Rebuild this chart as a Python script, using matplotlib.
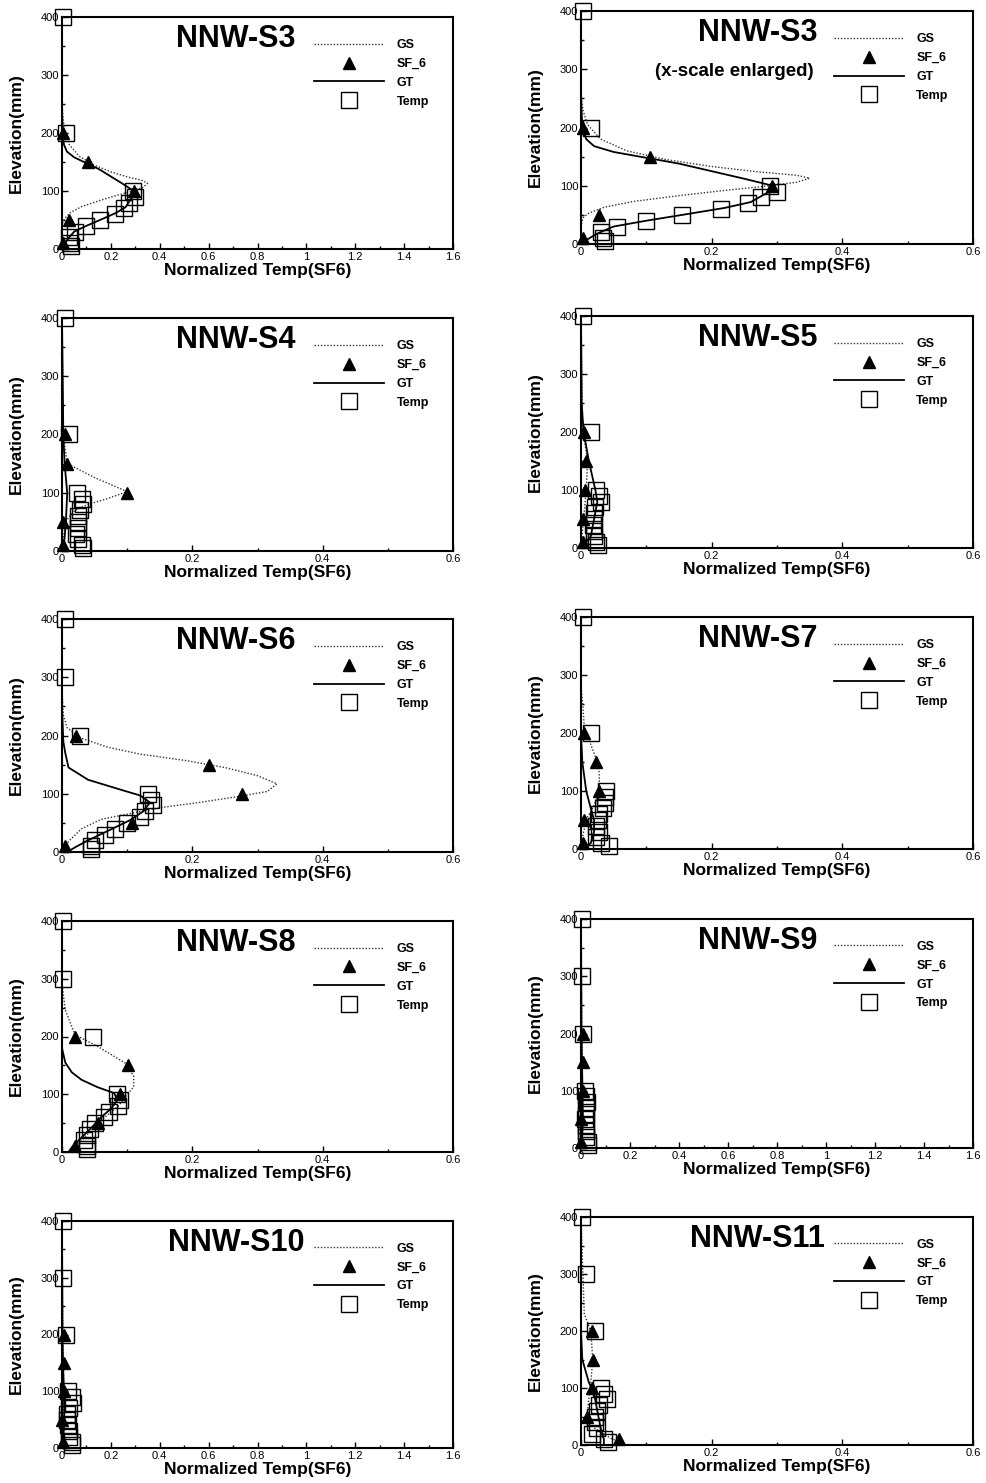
import numpy as np
import matplotlib
matplotlib.use("Agg")
import matplotlib.pyplot as plt
from matplotlib.ticker import MultipleLocator, FormatStrFormatter
from matplotlib.lines import Line2D

plt.rcParams['font.family'] = ['Liberation Sans', 'DejaVu Sans']

nan = np.nan

# ---------------- data ----------------
panel_titles = ['NNW-S3', 'NNW-S3', 'NNW-S4', 'NNW-S5', 'NNW-S6',
                'NNW-S7', 'NNW-S8', 'NNW-S9', 'NNW-S10', 'NNW-S11']
panel_station = ['S3', 'S3', 'S4', 'S5', 'S6', 'S7', 'S8', 'S9', 'S10', 'S11']
panel_xmax = [1.6, 0.6, 0.6, 0.6, 0.6, 0.6, 0.6, 1.6, 1.6, 0.6]
legend_labels = ['GS', 'SF_6', 'GT', 'Temp']

sf6_elev = [10, 50, 100, 150, 200]
temp_elev = [5, 10, 20, 30, 40, 50, 60, 70, 80, 90, 100, 200, 300, 400]

s3_sf6 = [0.003, 0.027, 0.293, 0.105, 0.003]
s3_temp = [0.037, 0.033, 0.030, 0.055, 0.100, 0.155, 0.215, 0.255, 0.275, 0.300, 0.290, 0.015, nan, 0.003]
s3_gs_x = [0, 0, 0.003, 0.010, 0.030, 0.070, 0.130, 0.200, 0.270, 0.330, 0.350, 0.330, 0.280, 0.220, 0.150, 0.080, 0.035, 0.012, 0.003, 0, 0]
s3_gs_y = [400, 260, 230, 205, 180, 160, 145, 133, 124, 118, 113, 106, 99, 92, 83, 73, 63, 53, 45, 30, 0]
s3_gt_x = [0, 0, 0.002, 0.008, 0.020, 0.050, 0.100, 0.150, 0.200, 0.250, 0.290, 0.285, 0.260, 0.220, 0.155, 0.100, 0.050, 0.025, 0.010, 0]
s3_gt_y = [400, 250, 200, 180, 168, 158, 148, 138, 125, 112, 101, 88, 72, 62, 50, 40, 30, 18, 8, 0]

s4_sf6 = [0.002, 0.002, 0.100, 0.008, 0.005]
s4_temp = [0.032, 0.030, 0.024, 0.022, 0.024, 0.025, 0.024, 0.027, 0.032, 0.030, 0.023, 0.010, nan, 0.004]
s4_gs_x = [0, 0.002, 0.008, 0.050, 0.100, 0.070, 0.040, 0.020, 0.005, 0]
s4_gs_y = [400, 200, 150, 126, 102, 90, 80, 70, 50, 0]
s4_gt_x = [0, 0.002, 0.004, 0.008, 0.006, 0.003, 0]
s4_gt_y = [400, 200, 150, 100, 50, 10, 0]

s5_sf6 = [0.003, 0.003, 0.006, 0.008, 0.005]
s5_temp = [0.026, 0.023, 0.020, 0.020, 0.019, 0.020, 0.020, 0.022, 0.030, 0.028, 0.023, 0.016, nan, 0.003]
s5_gs_x = [0, 0.002, 0.006, 0.010, 0.008, 0.004, 0]
s5_gs_y = [400, 220, 180, 150, 100, 50, 0]
s5_gt_x = [0, 0.001, 0.004, 0.012, 0.022, 0.025, 0.020, 0.015, 0]
s5_gt_y = [400, 250, 200, 150, 100, 80, 50, 20, 0]

s6_sf6 = [0.005, 0.108, 0.276, 0.225, 0.022]
s6_temp = [0.045, 0.045, 0.050, 0.066, 0.081, 0.100, 0.119, 0.127, 0.139, 0.137, 0.132, 0.028, 0.005, 0.005]
s6_gs_x = [0, 0, 0.002, 0.008, 0.030, 0.070, 0.120, 0.190, 0.250, 0.300, 0.330, 0.315, 0.275, 0.210, 0.150, 0.100, 0.060, 0.030, 0.010, 0]
s6_gs_y = [400, 280, 235, 213, 195, 180, 168, 157, 145, 131, 117, 104, 96, 85, 76, 65, 56, 40, 18, 0]
s6_gt_x = [0, 0, 0.002, 0.005, 0.010, 0.040, 0.090, 0.120, 0.135, 0.125, 0.105, 0.070, 0.040, 0.020, 0.008]
s6_gt_y = [400, 250, 190, 170, 145, 124, 107, 97, 85, 70, 55, 36, 20, 8, 0]

s7_sf6 = [0.003, 0.005, 0.028, 0.023, 0.005]
s7_temp = [0.043, 0.030, 0.023, 0.028, 0.023, 0.026, 0.028, 0.033, 0.036, 0.037, 0.038, 0.015, nan, 0.003]
s7_gs_x = [0, 0, 0.003, 0.005, 0.015, 0.025, 0.028, 0.028, 0.020, 0.010, 0.004, 0]
s7_gs_y = [400, 280, 245, 210, 180, 150, 130, 100, 75, 55, 30, 0]
s7_gt_x = [0, 0, 0.002, 0.008, 0.015, 0.020, 0.020, 0.015, 0]
s7_gt_y = [400, 200, 150, 100, 70, 50, 30, 10, 0]

s8_sf6 = [0.020, 0.056, 0.089, 0.102, 0.020]
s8_temp = [0.038, 0.038, 0.033, 0.038, 0.043, 0.050, 0.064, 0.072, 0.086, 0.089, 0.084, 0.048, 0.002, 0.002]
s8_gs_x = [0, 0, 0.005, 0.020, 0.056, 0.097, 0.110, 0.110, 0.102, 0.086, 0.061, 0.036, 0.015]
s8_gs_y = [400, 292, 246, 203, 182, 154, 131, 113, 102, 79, 56, 27, 0]
s8_gt_x = [0, 0, 0.005, 0.015, 0.030, 0.055, 0.080, 0.085, 0.075, 0.060, 0.045, 0.030, 0.015, 0.010]
s8_gt_y = [400, 180, 155, 138, 125, 112, 102, 90, 75, 60, 42, 25, 8, 0]

s9_sf6 = [0.0, 0.0, 0.007, 0.007, 0.007]
s9_temp = [0.030, 0.030, 0.020, 0.020, 0.020, 0.015, 0.020, 0.020, 0.025, 0.020, 0.015, 0.010, 0.005, 0.005]
s9_gs_x = [0, 0.003, 0.005, 0.006, 0.004, 0]
s9_gs_y = [400, 200, 150, 100, 50, 0]
s9_gt_x = [0, 0.002, 0.004, 0.006, 0.008, 0.005, 0]
s9_gt_y = [400, 200, 150, 100, 50, 20, 0]

s10_sf6 = [0.005, 0.0, 0.007, 0.007, 0.007]
s10_temp = [0.040, 0.040, 0.030, 0.030, 0.025, 0.020, 0.020, 0.030, 0.045, 0.040, 0.025, 0.015, 0.005, 0.005]
s10_gs_x = [0, 0.003, 0.005, 0.007, 0.004, 0]
s10_gs_y = [400, 200, 150, 100, 50, 0]
s10_gt_x = [0, 0.002, 0.004, 0.008, 0.010, 0.006, 0]
s10_gt_y = [400, 200, 150, 100, 50, 20, 0]

s11_sf6 = [0.058, 0.009, 0.017, 0.019, 0.017]
s11_temp = [0.042, 0.035, 0.017, 0.024, 0.022, 0.022, 0.024, 0.027, 0.040, 0.035, 0.030, 0.022, 0.007, 0.002]
s11_gs_x = [0, 0.005, 0.015, 0.018, 0.015, 0.010, 0.020, 0.045, 0.060]
s11_gs_y = [400, 230, 200, 150, 110, 60, 30, 12, 5]
s11_gt_x = [0, 0, 0.002, 0.012, 0.020, 0.025, 0.030, 0.035, 0.035]
s11_gt_y = [400, 200, 150, 110, 90, 60, 30, 10, 0]

stations = {
    'S3': (s3_sf6, s3_temp, s3_gs_x, s3_gs_y, s3_gt_x, s3_gt_y),
    'S4': (s4_sf6, s4_temp, s4_gs_x, s4_gs_y, s4_gt_x, s4_gt_y),
    'S5': (s5_sf6, s5_temp, s5_gs_x, s5_gs_y, s5_gt_x, s5_gt_y),
    'S6': (s6_sf6, s6_temp, s6_gs_x, s6_gs_y, s6_gt_x, s6_gt_y),
    'S7': (s7_sf6, s7_temp, s7_gs_x, s7_gs_y, s7_gt_x, s7_gt_y),
    'S8': (s8_sf6, s8_temp, s8_gs_x, s8_gs_y, s8_gt_x, s8_gt_y),
    'S9': (s9_sf6, s9_temp, s9_gs_x, s9_gs_y, s9_gt_x, s9_gt_y),
    'S10': (s10_sf6, s10_temp, s10_gs_x, s10_gs_y, s10_gt_x, s10_gt_y),
    'S11': (s11_sf6, s11_temp, s11_gs_x, s11_gs_y, s11_gt_x, s11_gt_y),
}

# ---------------- layout (pixel boxes: left, right, top, bottom) ----------------
W, H = 986, 1483
col_lr = [(62, 453), (581, 973)]
row_tb = [[(17, 249), (11, 244)],
          [(318, 551), (316, 548)],
          [(619, 852), (617, 849)],
          [(921, 1152), (919, 1148)],
          [(1221, 1448), (1217, 1445)]]

GS_STYLE = dict(color='#333333', lw=1.0, ls=(0, (1, 1.3)))
GT_STYLE = dict(color='black', lw=1.3)
TRI_STYLE = dict(ls='none', marker='^', ms=9, color='black')
SQ_STYLE = dict(ls='none', marker='s', ms=11, mfc='none', mec='black', mew=1.0)

fig = plt.figure(figsize=(W / 100, H / 100), dpi=100)

for i, title in enumerate(panel_titles):
    r, c = divmod(i, 2)
    l, rr = col_lr[c]
    t, b = row_tb[r][c]
    ax = fig.add_axes([l / W, 1 - b / H, (rr - l) / W, (b - t) / H])
    sf6, temp, gsx, gsy, gtx, gty = stations[panel_station[i]]

    ax.plot(gsx, gsy, zorder=2, clip_on=False, **GS_STYLE)
    ax.plot(gtx, gty, zorder=3, clip_on=False, **GT_STYLE)
    ax.plot(sf6, sf6_elev, zorder=5, clip_on=False, **TRI_STYLE)
    ax.plot(temp, temp_elev, zorder=4, clip_on=False, **SQ_STYLE)

    xmax = panel_xmax[i]
    ax.set_xlim(0, xmax)
    ax.set_ylim(0, 400)
    ax.xaxis.set_major_locator(MultipleLocator(0.2))
    ax.xaxis.set_minor_locator(MultipleLocator(0.1))
    ax.yaxis.set_major_locator(MultipleLocator(100))
    ax.yaxis.set_minor_locator(MultipleLocator(50))
    ax.xaxis.set_major_formatter(FormatStrFormatter('%g'))
    ax.tick_params(which='both', direction='in', labelsize=8, pad=2)
    ax.tick_params(which='major', length=4, width=1)
    ax.tick_params(which='minor', length=2, width=1)
    for sp in ax.spines.values():
        sp.set_linewidth(1.5)

    ax.set_xlabel('Normalized Temp(SF6)', fontsize=12.5, fontweight='bold', labelpad=1)
    ax.set_ylabel('Elevation(mm)', fontsize=12.5, fontweight='bold', labelpad=12)

    ax.text(0.445 if c == 0 else 0.45, 0.905, title, transform=ax.transAxes,
            ha='center', va='center', fontsize=22, fontweight='bold')
    if i == 1:
        ax.text(0.39, 0.74, '(x-scale enlarged)', transform=ax.transAxes,
                ha='center', va='center', fontsize=13.5, fontweight='bold')

    handles = [Line2D([], [], **GS_STYLE), Line2D([], [], **TRI_STYLE),
               Line2D([], [], **GT_STYLE), Line2D([], [], **SQ_STYLE)]
    ax.legend(handles, legend_labels, loc='upper left', bbox_to_anchor=(0.645, 0.905),
              frameon=False, prop={'weight': 'bold', 'size': 9}, handlelength=5.6,
              handletextpad=1.0, labelspacing=0.55, borderpad=0, borderaxespad=0,
              numpoints=1)

fig.savefig('out.png', dpi=100)
